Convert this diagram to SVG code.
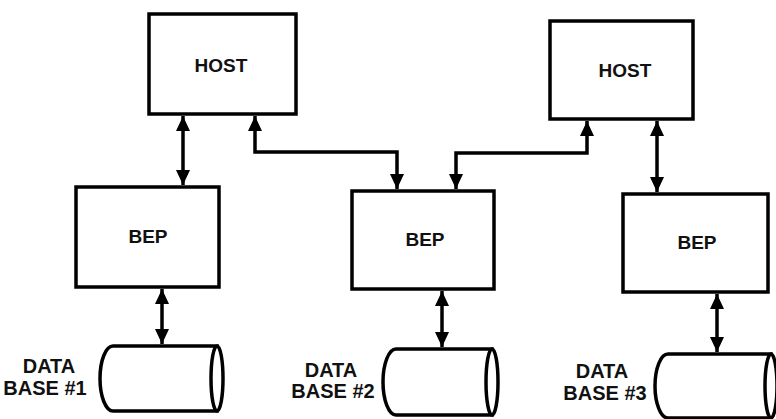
<svg xmlns="http://www.w3.org/2000/svg" width="776" height="419" viewBox="0 0 776 419">
<defs>
<marker id="ah" markerUnits="userSpaceOnUse" viewBox="0 0 16 16" refX="15" refY="8" markerWidth="16" markerHeight="16" orient="auto-start-reverse">
<path d="M0,1 L15,8 L0,15 Z" fill="#000"/>
</marker>
<style>
.box{fill:#fff;stroke:#000;stroke-width:3.5}
.db{fill:#fff;stroke:#000;stroke-width:3.5}
.lbl{font-family:"Liberation Sans",Arial,sans-serif;font-weight:bold;font-size:19px;fill:#111;text-anchor:middle}
.dbl{font-family:"Liberation Sans",Arial,sans-serif;font-weight:bold;font-size:20px;fill:#111;text-anchor:middle}
.conn{fill:none;stroke:#000;stroke-width:3.5;marker-start:url(#ah);marker-end:url(#ah)}
</style>
</defs>
<rect width="776" height="419" fill="#fff"/>
<g id="host1"><rect class="box" x="149" y="14" width="147" height="100"/><text class="lbl" x="221" y="72">HOST</text></g>
<g id="host2"><rect class="box" x="550" y="21" width="143" height="98"/><text class="lbl" x="625" y="77">HOST</text></g>
<g id="bep1"><rect class="box" x="76" y="187" width="143" height="100"/><text class="lbl" x="148" y="243">BEP</text></g>
<g id="bep2"><rect class="box" x="352" y="191" width="142" height="98"/><text class="lbl" x="425" y="246">BEP</text></g>
<g id="bep3"><rect class="box" x="623" y="194" width="145" height="98"/><text class="lbl" x="697" y="249">BEP</text></g>
<g id="db1">
<path class="db" d="M113,346 H217 V411 H113 A13,32.5 0 0 1 113,346 Z"/>
<ellipse class="db" cx="217" cy="378.5" rx="6" ry="32.5"/>
<text class="dbl" x="49" y="373">DATA</text><text class="dbl" x="45" y="395">BASE #1</text>
</g>
<g id="db2">
<path class="db" d="M396,349 H492 V415 H396 A13,33 0 0 1 396,349 Z"/>
<ellipse class="db" cx="492" cy="382" rx="6" ry="33"/>
<text class="dbl" x="331" y="377">DATA</text><text class="dbl" x="333" y="398">BASE #2</text>
</g>
<g id="db3">
<path class="db" d="M668,354 H771 V418 H668 A13,32 0 0 1 668,354 Z"/>
<ellipse class="db" cx="771" cy="386" rx="6" ry="32"/>
<text class="dbl" x="602" y="378">DATA</text><text class="dbl" x="605" y="400">BASE #3</text>
</g>
<g id="connectors">
<path class="conn" d="M183,116 V185"/>
<path class="conn" d="M255,116 V152 H397 V189"/>
<path class="conn" d="M456,189 V153 H587 V121"/>
<path class="conn" d="M657,121 V192"/>
<path class="conn" d="M162,289 V344"/>
<path class="conn" d="M442,291 V347"/>
<path class="conn" d="M717,294 V352"/>
</g>
</svg>
